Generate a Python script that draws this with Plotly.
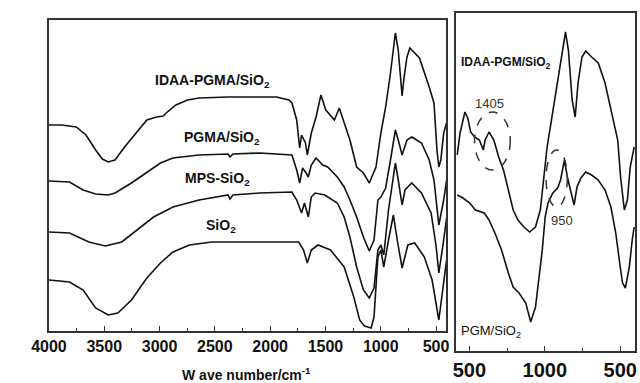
import plotly.graph_objects as go

# ---------------- data (wavenumber cm^-1, transmittance a.u.) ----------------
idaa_wn = [4000, 3884, 3753, 3665, 3578, 3517, 3464, 3403, 3316, 3228, 3115, 3027, 2966, 2940,
           2852, 2747, 2643, 2380, 2092, 1943, 1830, 1803, 1760, 1733, 1716, 1681, 1664, 1628,
           1585, 1541, 1497, 1454, 1419, 1375, 1331, 1279, 1218, 1157, 1104, 1043, 999, 956,
           912, 868, 842, 807, 790, 763, 737, 650, 562, 519, 492, 475, 457, 431, 405]
idaa_t = [206, 206, 204, 196, 181, 172, 169, 171, 184, 196, 211, 214, 215, 218,
          226, 231, 233, 234, 234, 234, 231, 228, 211, 183, 196, 188, 176, 198,
          214, 236, 221, 216, 211, 223, 209, 191, 164, 158, 148, 164, 198, 224,
          258, 298, 281, 235, 253, 274, 283, 273, 244, 228, 181, 164, 171, 198, 208]

pgma_wn = [4000, 3814, 3691, 3578, 3464, 3403, 3254, 3115, 2992, 2879, 2643, 2380, 2363, 2337,
           2092, 1803, 1760, 1733, 1707, 1681, 1655, 1628, 1585, 1524, 1480, 1393, 1331, 1279,
           1218, 1157, 1104, 1061, 1026, 999, 956, 912, 868, 842, 807, 763, 720, 632, 562,
           519, 475, 431, 405]
pgma_t = [150, 149, 141, 137, 136, 138, 148, 159, 168, 173, 176, 177, 174, 177,
          178, 176, 161, 148, 163, 159, 154, 166, 173, 166, 164, 154, 144, 131,
          114, 94, 80, 91, 131, 134, 143, 171, 201, 191, 176, 191, 194, 188, 171,
          151, 106, 131, 151]

mps_wn = [4000, 3814, 3639, 3490, 3342, 3202, 3054, 2879, 2643, 2380, 2363, 2337, 2092, 1803,
          1760, 1716, 1690, 1655, 1628, 1593, 1506, 1393, 1331, 1279, 1218, 1157, 1104, 1061,
          1026, 999, 973, 930, 868, 842, 807, 781, 720, 632, 545, 501, 475, 431, 405]
mps_t = [99, 98, 89, 85, 89, 101, 114, 124, 131, 136, 132, 136, 138, 139,
         131, 118, 128, 114, 134, 138, 136, 128, 114, 94, 64, 41, 33, 43,
         81, 86, 76, 121, 168, 151, 126, 141, 148, 138, 118, 86, 58, 91, 113]

sio2_wn = [4000, 3814, 3691, 3578, 3464, 3377, 3254, 3115, 2992, 2879, 2730, 2529, 2092, 1742,
           1698, 1664, 1628, 1567, 1454, 1331, 1244, 1191, 1148, 1087, 1061, 1026, 999, 973,
           930, 886, 851, 807, 755, 693, 606, 536, 475, 431, 405]
sio2_t = [51, 49, 41, 23, 16, 18, 31, 53, 68, 79, 86, 89, 89, 89,
          81, 68, 81, 86, 81, 64, 34, 11, 5, 3, 14, 74, 81, 64,
          91, 116, 91, 63, 86, 88, 74, 51, 11, 46, 71]

# right panel (zoomed region)
idaa_pgm_wn = [1581, 1562, 1530, 1511, 1492, 1466, 1434, 1408, 1396, 1370, 1338, 1306, 1274,
               1242, 1210, 1178, 1139, 1101, 1062, 1030, 1011, 985, 953, 921, 889, 863, 844,
               819, 799, 780, 754, 729, 690, 646, 601, 562, 517, 498, 473, 453, 434, 408]
idaa_pgm_t = [196, 218, 239, 233, 219, 214, 211, 201, 211, 219, 211, 194, 181,
              161, 141, 131, 124, 119, 124, 141, 168, 204, 234, 264, 294, 319, 301,
              251, 234, 268, 294, 300, 294, 288, 268, 241, 211, 174, 141, 151, 184, 204]

pgm_wn = [1581, 1543, 1498, 1460, 1402, 1370, 1331, 1287, 1242, 1210, 1171, 1126, 1094, 1062,
          1043, 1017, 998, 979, 947, 915, 896, 870, 851, 825, 806, 787, 761, 729, 690, 646,
          601, 562, 530, 504, 485, 466, 440, 421, 408]
pgm_t = [156, 153, 148, 141, 138, 131, 118, 101, 78, 64, 58, 48, 29, 44,
         68, 101, 134, 148, 158, 163, 171, 191, 174, 158, 146, 164, 173, 179, 176, 171,
         161, 144, 118, 88, 68, 63, 84, 111, 124]

left_ticks = [4000, 3500, 3000, 2500, 2000, 1500, 1000, 500]
left_ticktext = ["4000", "3500", "3000", "2500", "2000", "1500", "1000", "500"]
right_ticks = [1500, 1000, 500]
right_ticktext = ["500", "1000", "500"]

# ---------------- figure ----------------
W, H = 640, 383
FONT = "Liberation Sans, Arial, sans-serif"
LINE = dict(color="#111111", width=1.6)

fig = go.Figure()
for wn, t in [(idaa_wn, idaa_t), (pgma_wn, pgma_t), (mps_wn, mps_t), (sio2_wn, sio2_t)]:
    fig.add_trace(go.Scatter(x=wn, y=t, mode="lines", line=LINE, xaxis="x", yaxis="y",
                             showlegend=False, hoverinfo="skip"))
for wn, t in [(idaa_pgm_wn, idaa_pgm_t), (pgm_wn, pgm_t)]:
    fig.add_trace(go.Scatter(x=wn, y=t, mode="lines", line=LINE, xaxis="x2", yaxis="y2",
                             showlegend=False, hoverinfo="skip"))

def px(x):
    return x / W

def py(y):
    return 1 - y / H

frame = dict(showline=True, mirror=True, linecolor="#333333", linewidth=1.5,
             showgrid=False, zeroline=False)

fig.update_layout(
    width=W, height=H, margin=dict(l=0, r=0, t=0, b=0),
    paper_bgcolor="white", plot_bgcolor="white",
    font=dict(family=FONT, color="#111111"),
    xaxis=dict(domain=[px(32), px(443)], range=[4000, 406], tickvals=left_ticks,
               ticktext=left_ticktext, ticks="inside", ticklen=5, tickwidth=1.2,
               tickcolor="#333333",
               minor=dict(ticks="inside", dtick=250, ticklen=3, tickcolor="#333333", showgrid=False),
               tickfont=dict(family=FONT, size=16, color="#111111", weight="bold"), **frame),
    yaxis=dict(domain=[py(331), py(20)], range=[0, 311], showticklabels=False, ticks="", **frame),
    xaxis2=dict(domain=[px(453), px(638)], range=[1588, 402], tickvals=right_ticks,
                ticktext=right_ticktext, ticks="inside", ticklen=5, tickwidth=1.2,
                tickcolor="#333333",
                minor=dict(ticks="inside", dtick=250, ticklen=3, tickcolor="#333333", showgrid=False),
                tickfont=dict(family=FONT, size=20, color="#111111", weight="bold"),
                anchor="y2", **frame),
    yaxis2=dict(domain=[py(351), py(13)], range=[0, 338], showticklabels=False, ticks="",
                anchor="x2", **frame),
)

def label(text, x, y, size=14, bold=True, xanchor="center", color="#111111"):
    fig.add_annotation(text=text, x=px(x), y=py(y), xref="paper", yref="paper",
                       showarrow=False, xanchor=xanchor, yanchor="middle",
                       font=dict(family=FONT, size=size, color=color,
                                 weight="bold" if bold else "normal"))

label("IDAA-PGMA/SiO<sub>2</sub>", 201, 81, size=14)
label("PGMA/SiO<sub>2</sub>", 211, 138, size=14)
label("MPS-SiO<sub>2</sub>", 206, 179, size=14)
label("SiO<sub>2</sub>", 210, 226, size=14)
label("W ave number/cm<sup>-1</sup>", 236, 374, size=14)

label("IDAA-PGM/SiO<sub>2</sub>", 456, 63, size=12, xanchor="left")
label("PGM/SiO<sub>2</sub>", 456, 331, size=13, bold=False, xanchor="left")
label("1405", 488, 103, size=13, bold=False, color="#333333")
label("950", 562, 220, size=13, bold=False, color="#333333")

# dashed ellipses marking bands
fig.add_shape(type="circle", xref="x2", yref="y2", x0=1466, x1=1229, y0=181, y1=239,
              line=dict(color="#333333", width=1.5, dash="dash"))
fig.add_shape(type="circle", xref="x2", yref="y2", x0=992, x1=851, y0=144, y1=201,
              line=dict(color="#333333", width=1.5, dash="dash"))

fig.write_html("out.html")
